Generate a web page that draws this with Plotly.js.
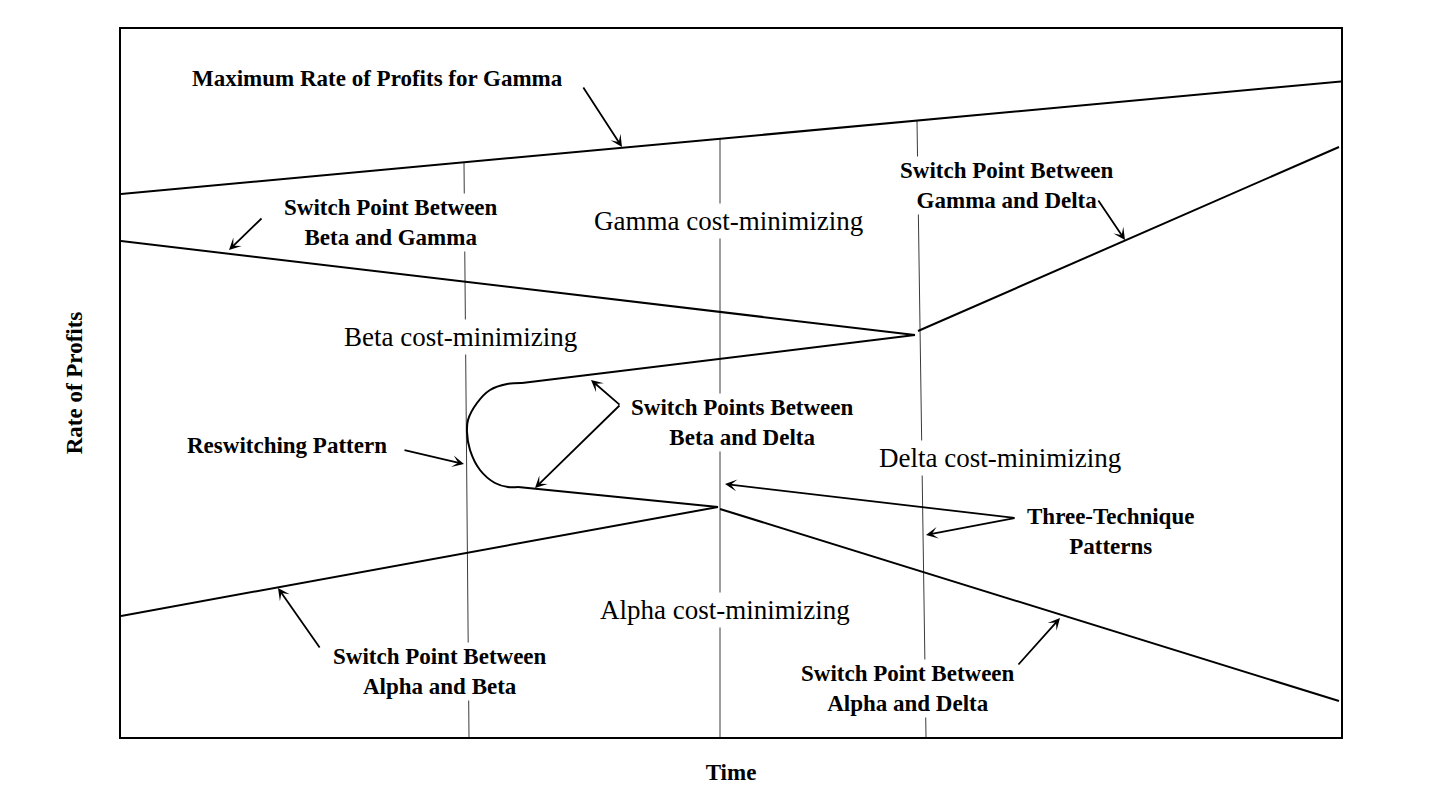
<!DOCTYPE html>
<html>
<head>
<meta charset="utf-8">
<script src="https://cdn.plot.ly/plotly-3.0.1.min.js"></script>
<style>
  html, body { margin: 0; padding: 0; background: #ffffff; }
  #chart { width: 1440px; height: 810px; }
</style>
</head>
<body>
<div id="chart"></div>
<script>
// ---- Data (abstract diagram units: time on x, rate of profits on y) ----
const maxGammaX = [0, 1225];
const maxGammaY = [543, 656];

const betaGammaX = [0, 794];
const betaGammaY = [496, 402];

const gammaDeltaX = [797, 1218];
const gammaDeltaY = [406, 590];

const betaDeltaUpperX = [401, 794];
const betaDeltaUpperY = [354, 402];

const reswitchArcX = [401, 386, 369, 356, 347, 346, 349, 359, 374, 387, 397];
const reswitchArcY = [354, 353, 347, 334, 317, 305, 287, 267, 254, 250, 250];

const betaDeltaLowerX = [397, 597];
const betaDeltaLowerY = [250, 230];

const alphaBetaX = [0, 597];
const alphaBetaY = [121, 230];

const alphaDeltaX = [599, 1218];
const alphaDeltaY = [228, 36];

const timeLine1X = [343, 348];
const timeLine1Y = [574, 0];
const timeLine2X = [599, 599];
const timeLine2Y = [598, 0];
const timeLine3X = [796, 805];
const timeLine3Y = [616, 0];

// Region labels
const regionLabels = ["Gamma cost-minimizing", "Beta cost-minimizing", "Delta cost-minimizing", "Alpha cost-minimizing"];
const regionLabelX = [607, 339, 879, 604];
const regionLabelY = [516, 400, 279, 127];

// Callout labels
const calloutLabels = [
  "Maximum Rate of Profits for Gamma",
  "Switch Point Between<br>Beta and Gamma",
  "Switch Point Between<br>Gamma and Delta",
  "Switch Points Between<br>Beta and Delta",
  "Reswitching Pattern",
  "Three-Technique<br>Patterns",
  "Switch Point Between<br>Alpha and Beta",
  "Switch Point Between<br>Alpha and Delta"
];
const calloutX = [256, 270, 886, 621, 166, 989, 319, 787];
const calloutY = [659, 515, 552, 315, 292, 206, 66, 49];

// Arrows: head (x, y) and tail (ax, ay)
const arrowHeadX = [501, 108, 1004, 470, 414, 343, 604, 805, 157, 939];
const arrowHeadY = [590, 487, 497, 357, 249, 273, 253, 202, 149, 119];
const arrowTailX = [462, 141, 977, 499, 499, 283, 894, 894, 199, 897];
const arrowTailY = [650, 519, 537, 332, 332, 287, 219, 219, 89, 72];

// ---- Build figure ----
const FONT = "Liberation Serif, Times New Roman, serif";
function solid(x, y, shape) {
  return {x: x, y: y, type: "scatter", mode: "lines", hoverinfo: "skip", showlegend: false,
          line: {color: "#000000", width: 2, shape: shape || "linear", smoothing: 1}};
}
function thin(x, y) {
  return {x: x, y: y, type: "scatter", mode: "lines", hoverinfo: "skip", showlegend: false,
          line: {color: "#3a3a3a", width: 1}};
}

const traces = [
  thin(timeLine1X, timeLine1Y),
  thin(timeLine2X, timeLine2Y),
  thin(timeLine3X, timeLine3Y),
  solid(maxGammaX, maxGammaY),
  solid(betaGammaX, betaGammaY),
  solid(gammaDeltaX, gammaDeltaY),
  solid(betaDeltaUpperX, betaDeltaUpperY),
  solid(reswitchArcX, reswitchArcY, "spline"),
  solid(betaDeltaLowerX, betaDeltaLowerY),
  solid(alphaBetaX, alphaBetaY),
  solid(alphaDeltaX, alphaDeltaY)
];

const annotations = [];
regionLabels.forEach((t, i) => {
  annotations.push({x: regionLabelX[i], y: regionLabelY[i], xref: "x", yref: "y", text: t,
    showarrow: false, bgcolor: "#ffffff", borderpad: 2,
    font: {family: FONT, size: 27, color: "#000000"}});
});
calloutLabels.forEach((t, i) => {
  annotations.push({x: calloutX[i], y: calloutY[i], xref: "x", yref: "y", text: "<b>" + t.replace("<br>", "</b><br><b>") + "</b>",
    showarrow: false, bgcolor: "#ffffff", borderpad: 1,
    font: {family: FONT, size: 23, color: "#000000"}});
});
arrowHeadX.forEach((hx, i) => {
  annotations.push({x: hx, y: arrowHeadY[i], ax: arrowTailX[i], ay: arrowTailY[i],
    xref: "x", yref: "y", axref: "x", ayref: "y", text: "", showarrow: true,
    arrowhead: 3, arrowsize: 1.1, arrowwidth: 1.8, arrowcolor: "#000000",
    borderpad: 0, font: {size: 1}});
});

const layout = {
  width: 1440, height: 810,
  margin: {l: 121, r: 99, t: 29, b: 73, pad: 0},
  paper_bgcolor: "#ffffff", plot_bgcolor: "#ffffff",
  showlegend: false,
  xaxis: {range: [0, 1220], showgrid: false, zeroline: false, showticklabels: false, ticks: "",
          showline: true, mirror: true, linecolor: "#000000", linewidth: 2, fixedrange: true,
          title: {text: "<b>Time</b>", font: {family: FONT, size: 23, color: "#000000"}, standoff: 26}},
  yaxis: {range: [0, 708], showgrid: false, zeroline: false, showticklabels: false, ticks: "",
          showline: true, mirror: true, linecolor: "#000000", linewidth: 2, fixedrange: true,
          title: {text: "<b>Rate of Profits</b>", font: {family: FONT, size: 23, color: "#000000"}, standoff: 30}},
  annotations: annotations
};

Plotly.newPlot("chart", traces, layout, {displayModeBar: false, staticPlot: true});
</script>
</body>
</html>
